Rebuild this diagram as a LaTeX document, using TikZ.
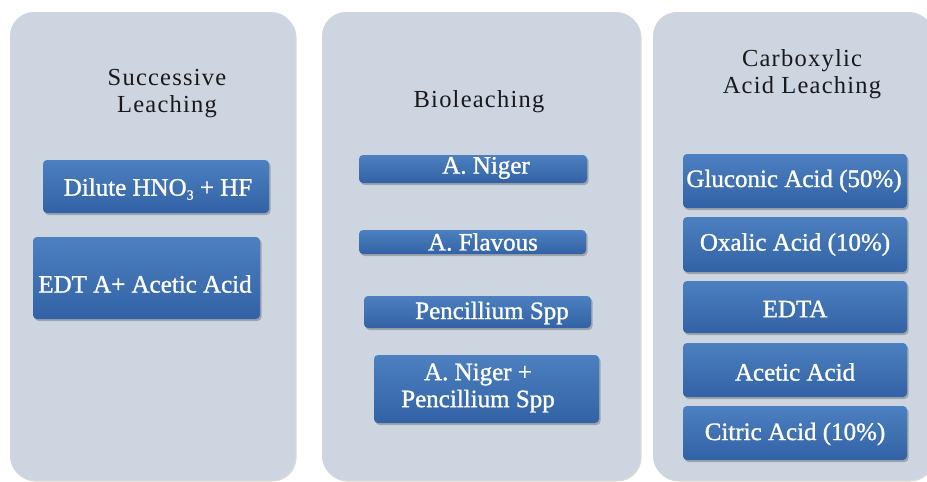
\documentclass[tikz,border=0pt]{standalone}
\usepackage{fontspec}
\setmainfont{Liberation Serif}
\newfontfamily\titlefont[LetterSpace=5]{Liberation Serif}
\newfontfamily\boxfont[FakeBold=1.2]{Liberation Serif}
\usetikzlibrary{shadows,calc}
\definecolor{panelc}{RGB}{205,213,225}
\definecolor{boxtop}{RGB}{76,128,192}
\definecolor{boxbot}{RGB}{50,98,165}
\definecolor{titlec}{RGB}{25,25,25}
\newcommand{\subthree}{\raisebox{-4pt}{\fontsize{14}{14}\selectfont 3}}
\tikzset{
  panel/.style={draw=none, fill=panelc, rounded corners=24pt,
    drop shadow={shadow xshift=1.5pt, shadow yshift=-1.5pt, opacity=0.25, fill=black!60}},
  boxs/.style={rounded corners=4pt, top color=boxtop, bottom color=boxbot, draw=none,
    inner sep=0pt, drop shadow={shadow xshift=1.5pt, shadow yshift=-2pt, opacity=0.35, fill=black!70}},
  btxt/.style={text=white, font=\boxfont\fontsize{25}{27}\selectfont, align=center, inner sep=0pt},
  ttl/.style={text=titlec, font=\titlefont\fontsize{24.5}{27}\selectfont, align=center, inner sep=0pt}
}
\begin{document}
\begin{tikzpicture}[x=1pt,y=-1pt]
\useasboundingbox[fill=white] (0,0) rectangle (927,482);
% panels
\node[panel, minimum width=285pt, minimum height=468pt] (p1) at (152.5,246) {};
\node[panel, minimum width=318pt, minimum height=468pt] (p2) at (481,246) {};
\node[panel, minimum width=280pt, minimum height=468pt] (p3) at (793,246) {};
% panel 1
\node[ttl] (t1) at (167,93.5) {Successive\\Leaching};
\node[boxs, minimum width=226pt, minimum height=53pt] (b11) at (156,186.5) {};
\node[btxt] (l11) at (158,189) {Dilute HNO\subthree\ + HF};
\node[boxs, minimum width=227pt, minimum height=82pt] (b12) at (146.5,278) {};
\node[btxt] (l12) at (145,284) {EDT A+ Acetic Acid};
% panel 2
\node[ttl] (t2) at (479,102) {Bioleaching};
\node[boxs, minimum width=228pt, minimum height=28pt] (b21) at (473,169) {};
\node[btxt] (l21) at (486,168) {A. Niger};
\node[boxs, minimum width=227pt, minimum height=24pt] (b22) at (472.5,242) {};
\node[btxt] (l22) at (483,242) {A. Flavous};
\node[boxs, minimum width=227pt, minimum height=32pt] (b23) at (477.5,312) {};
\node[btxt] (l23) at (492,313) {Pencillium Spp};
\node[boxs, minimum width=225pt, minimum height=68pt] (b24) at (486.5,389) {};
\node[btxt] (l24) at (478,388) {A. Niger +\\Pencillium Spp};
% panel 3
\node[ttl] (t3) at (802,74) {Carboxylic\\Acid Leaching};
\node[boxs, minimum width=224pt, minimum height=54pt] (b31) at (795,181) {};
\node[btxt] (l31) at (794,181) {Gluconic Acid (50\%)};
\node[boxs, minimum width=224pt, minimum height=55pt] (b32) at (795,244.5) {};
\node[btxt] (l32) at (795,244.5) {Oxalic Acid (10\%)};
\node[boxs, minimum width=224pt, minimum height=52pt] (b33) at (795,307) {};
\node[btxt] (l33) at (795,309) {EDTA};
\node[boxs, minimum width=224pt, minimum height=54pt] (b34) at (795,370) {};
\node[btxt] (l34) at (795,372) {Acetic Acid};
\node[boxs, minimum width=224pt, minimum height=54pt] (b35) at (795,433) {};
\node[btxt] (l35) at (795,434) {Citric Acid (10\%)};
\end{tikzpicture}
\end{document}
